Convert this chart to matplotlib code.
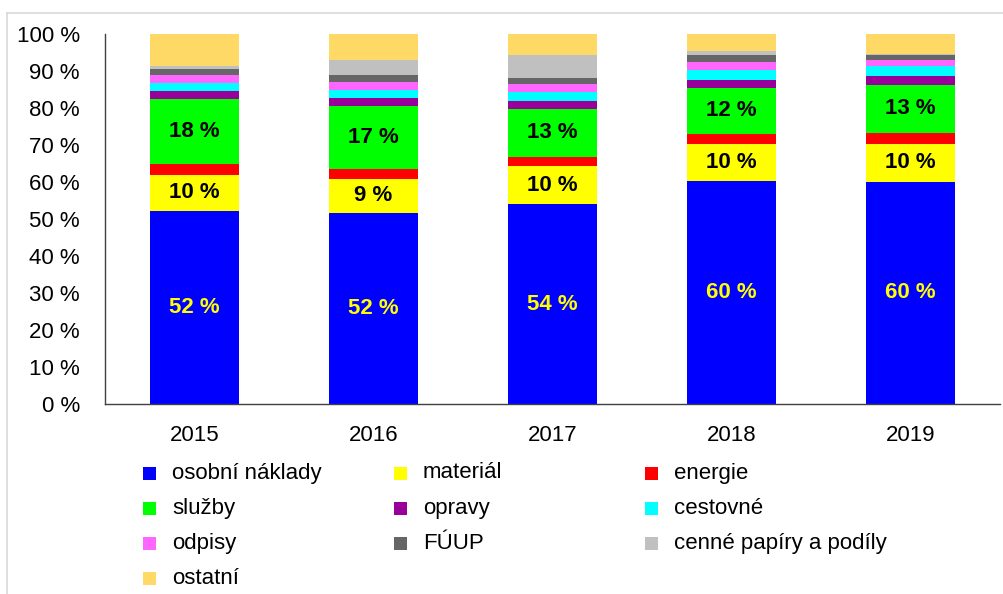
import matplotlib.pyplot as plt
from matplotlib.patches import Rectangle
from matplotlib.lines import Line2D
import numpy as np

# data (shares in %)
years = ['2015', '2016', '2017', '2018', '2019']
categories = ['osobní náklady', 'materiál', 'energie', 'služby', 'opravy',
              'cestovné', 'odpisy', 'FÚUP', 'cenné papíry a podíly', 'ostatní']
osobni = [52.2, 51.6, 54.0, 60.2, 60.0]
material = [9.8, 9.3, 10.2, 10.0, 10.4]
energie = [2.8, 2.5, 2.6, 2.9, 2.9]
sluzby = [17.6, 17.1, 12.9, 12.4, 12.9]
opravy = [2.2, 2.3, 2.2, 2.1, 2.5]
cestovne = [2.2, 2.2, 2.3, 2.7, 2.6]
odpisy = [2.1, 2.1, 2.2, 2.0, 1.6]
fuup = [1.7, 1.8, 1.6, 1.9, 1.5]
cenne = [0.7, 4.1, 6.3, 1.1, 0.1]
ostatni = [8.7, 7.0, 5.7, 4.7, 5.5]

series = [osobni, material, energie, sluzby, opravy, cestovne, odpisy, fuup, cenne, ostatni]
colors = ['#0000FF', '#FFFF00', '#FF0000', '#00FF00', '#990099',
          '#00FFFF', '#FF66FF', '#666666', '#C0C0C0', '#FFD966']
# which series get a value label and in what colour
label_colors = {0: '#FFFF00', 1: 'black', 3: 'black'}

W, H = 1004, 594
fig = plt.figure(figsize=(W / 100, H / 100), dpi=100)
ax = fig.add_axes([105 / W, 1 - 404 / H, (1000 - 105) / W, (404 - 34) / H])

narrow = ['Liberation Sans Narrow', 'Liberation Sans', 'DejaVu Sans']
font = ['Liberation Sans', 'DejaVu Sans']

x = np.arange(len(years))
bottom = np.zeros(len(years))
for i, (vals, c) in enumerate(zip(series, colors)):
    vals = np.array(vals)
    ax.bar(x, vals, 0.5, bottom=bottom, color=c, linewidth=0)
    if i in label_colors:
        for xi, b, v in zip(x, bottom, vals):
            ax.text(xi, b + v / 2, f'{round(v)} %', ha='center', va='center',
                    fontsize=16, fontweight='bold', color=label_colors[i], family=narrow)
    bottom += vals

ax.set_xlim(-0.5, len(years) - 0.5)
ax.set_ylim(0, 100)
ax.set_yticks(range(0, 101, 10))
ax.set_yticklabels([f'{t} %' for t in range(0, 101, 10)], family=font, fontsize=16)
ax.set_xticks(x)
ax.set_xticklabels(years, family=font, fontsize=16)
ax.tick_params(axis='y', length=0, pad=18)
ax.tick_params(axis='x', length=0, pad=15)
for s in ['top', 'right']:
    ax.spines[s].set_visible(False)
for s in ['left', 'bottom']:
    ax.spines[s].set_color('#404040')
    ax.spines[s].set_linewidth(1.0)

# legend, laid out row-wise like the original
for i, (lab, c) in enumerate(zip(categories, colors)):
    row, col = divmod(i, 3)
    cx = 143 + col * 251
    cy = 473 + row * 35.2
    fig.add_artist(Rectangle((cx / W, 1 - (cy + 6.5) / H), 13 / W, 13 / H,
                             transform=fig.transFigure, color=c, lw=0))
    fig.text((cx + 29) / W, 1 - cy / H, lab, ha='left', va='center',
             fontsize=16, family=font)

# light outer frame
fig.add_artist(Line2D([7 / W, 1], [1 - 13 / H, 1 - 13 / H], color='#D9D9D9', lw=1.2,
                      transform=fig.transFigure))
fig.add_artist(Line2D([7 / W, 7 / W], [0, 1 - 13 / H], color='#D9D9D9', lw=1.2,
                      transform=fig.transFigure))

fig.savefig('out.png', dpi=100)
